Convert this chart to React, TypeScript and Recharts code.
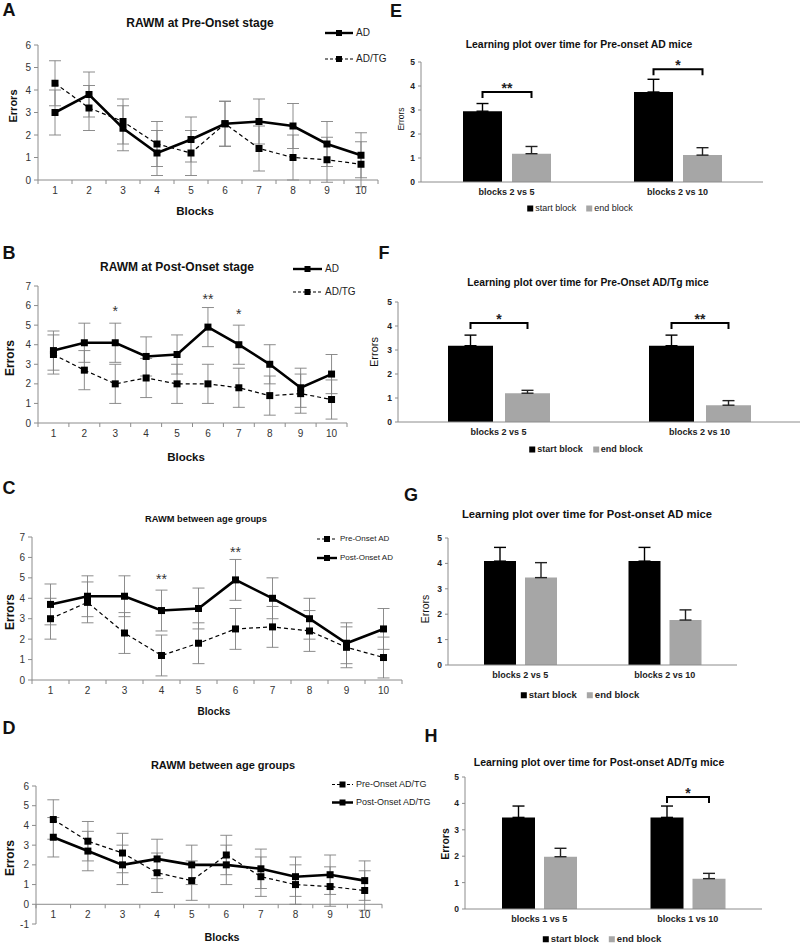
import {
  ComposedChart,
  Line,
  Bar,
  XAxis,
  YAxis,
  ErrorBar,
  ReferenceDot,
  ReferenceLine,
} from "recharts";

const FONT = '"Liberation Sans", Arial, Helvetica, sans-serif';
const AXIS = "#8c8c8c";
const BAR_GREY = "#a6a6a6";

// ---- RAWM errors per block (panels A-D) ----
const blocks = [1, 2, 3, 4, 5, 6, 7, 8, 9, 10];
const preAD = [3.0, 3.8, 2.3, 1.2, 1.8, 2.5, 2.6, 2.4, 1.6, 1.1];
const preTG = [4.3, 3.2, 2.6, 1.6, 1.2, 2.5, 1.4, 1.0, 0.9, 0.7];
const postAD = [3.7, 4.1, 4.1, 3.4, 3.5, 4.9, 4.0, 3.0, 1.8, 2.5];
const postTG = [3.5, 2.7, 2.0, 2.3, 2.0, 2.0, 1.8, 1.4, 1.5, 1.2];
const postTGd = [3.4, 2.7, 2.0, 2.3, 2.0, 2.0, 1.8, 1.4, 1.5, 1.2];
const semLines = [1, 1, 1, 1, 1, 1, 1, 1, 1, 1];

const starsB = [
  { block: 3, y: 5.7, text: "*" },
  { block: 6, y: 6.35, text: "**" },
  { block: 7, y: 5.55, text: "*" },
];
const starsC = [
  { block: 4, y: 4.95, text: "**" },
  { block: 6, y: 6.25, text: "**" },
];

// ---- learning plots (panels E-H) ----
const groups = ["blocks 2 vs 5", "blocks 2 vs 10"];
const groupsH = ["blocks 1 vs 5", "blocks 1 vs 10"];

const startE = [2.95, 3.75];
const startErrE = [0.32, 0.53];
const endE = [1.18, 1.12];
const endErrE = [0.3, 0.31];
const sigE = ["**", "*"];
const sigYE = [3.75, 4.7];

const startF = [3.18, 3.18];
const startErrF = [0.44, 0.44];
const endF = [1.2, 0.7];
const endErrF = [0.12, 0.19];
const sigF = ["*", "**"];
const sigYF = [4.12, 4.12];

const startG = [4.09, 4.09];
const startErrG = [0.54, 0.54];
const endG = [3.44, 1.77];
const endErrG = [0.59, 0.4];
const sigG = ["", ""];
const sigYG = [0, 0];

const startH = [3.47, 3.47];
const startErrH = [0.43, 0.43];
const endH = [1.98, 1.15];
const endErrH = [0.32, 0.2];
const sigH = ["", "*"];
const sigYH = [0, 4.24];

const lineTicks = [0, 1, 2, 3, 4, 5, 6, 7];
const barTicks = [0, 1, 2, 3, 4, 5];

function Txt({ x, y, size, bold = false, rotate = false, children }: any) {
  return (
    <div
      style={{
        position: "absolute",
        left: x,
        top: y,
        transform: `translate(-50%, -50%)${rotate ? " rotate(-90deg)" : ""}`,
        fontSize: size,
        fontWeight: bold ? 700 : 400,
        whiteSpace: "nowrap",
        lineHeight: 1,
        color: "#111",
      }}
    >
      {children}
    </div>
  );
}

const squareDot = (p: any) => (
  <rect key={`${p.dataKey}-${p.index}`} x={p.cx - 3.5} y={p.cy - 3.5} width={7} height={7} fill="#000" />
);

// category label + Excel style tick marks between the categories
function BlockTick(props: any) {
  const { x, y, payload, index, visibleTicksCount, shift = 0, half } = props;
  const yy = y + shift;
  return (
    <g>
      <line x1={x - half} x2={x - half} y1={yy} y2={yy + 4} stroke={AXIS} />
      {index === visibleTicksCount - 1 && <line x1={x + half} x2={x + half} y1={yy} y2={yy + 4} stroke={AXIS} />}
      <text x={x} y={yy + 14} textAnchor="middle" fontSize={10} fill="#333" fontFamily={FONT}>
        {payload.value}
      </text>
    </g>
  );
}

function LinePanel({ box, plot, data, series, domain, stars = [], zeroAxis = false }: any) {
  const margin = {
    top: plot.t - box.y,
    right: box.x + box.w - plot.r,
    bottom: box.y + box.h - plot.b - 20,
    left: 0,
  };
  const half = (plot.r - plot.l) / data.length / 2;
  const unit = (plot.b - plot.t) / (domain[1] - domain[0]);
  const shift = zeroAxis ? domain[0] * unit : 0;
  const ticks = lineTicks.filter((t) => t >= domain[0] && t <= domain[1]);
  if (domain[0] < 0) ticks.unshift(domain[0]);
  return (
    <div style={{ position: "absolute", left: box.x, top: box.y }}>
      <ComposedChart width={box.w} height={box.h} data={data} margin={margin}>
        <XAxis
          dataKey="block"
          height={20}
          interval={0}
          padding={{ left: half, right: half }}
          tickLine={false}
          tickSize={0}
          tickMargin={0}
          axisLine={zeroAxis ? false : { stroke: AXIS }}
          tick={(p: any) => <BlockTick {...p} shift={shift} half={half} />}
        />
        <YAxis
          width={plot.l - box.x}
          domain={domain}
          ticks={ticks}
          interval={0}
          allowDataOverflow
          tickSize={4}
          tickMargin={3}
          axisLine={{ stroke: AXIS }}
          tickLine={{ stroke: AXIS }}
          tick={{ fontSize: 10, fill: "#333", fontFamily: FONT }}
        />
        {zeroAxis && <ReferenceLine y={0} stroke={AXIS} />}
        {series.map((s: any) => (
          <Line
            key={s.key}
            dataKey={s.key}
            stroke="#000"
            strokeWidth={s.dashed ? 1.2 : 2.6}
            strokeDasharray={s.dashed ? "4 3" : undefined}
            dot={squareDot}
            activeDot={false}
            isAnimationActive={false}
          >
            <ErrorBar dataKey={s.err} direction="y" width={6} stroke="#808080" strokeWidth={0.9} />
          </Line>
        ))}
        {stars.map((s: any) => (
          <ReferenceDot
            key={s.block}
            x={s.block}
            y={s.y}
            r={0}
            fill="none"
            stroke="none"
            label={{ value: s.text, position: "center", fontSize: 14, fill: "#333", fontFamily: FONT }}
          />
        ))}
      </ComposedChart>
    </div>
  );
}

function LineKey({ x, y, gap, w, size, items }: any) {
  return (
    <>
      {items.map((it: any, i: number) => (
        <div
          key={it.label}
          style={{
            position: "absolute",
            left: x,
            top: y + i * gap,
            transform: "translateY(-50%)",
            display: "flex",
            alignItems: "center",
            fontSize: size,
            color: "#222",
            whiteSpace: "nowrap",
            lineHeight: 1,
          }}
        >
          <svg width={w} height={8}>
            <line
              x1={0}
              x2={w}
              y1={4}
              y2={4}
              stroke="#000"
              strokeWidth={it.dashed ? 1.2 : 2.4}
              strokeDasharray={it.dashed ? "3 2" : undefined}
            />
            <rect x={w / 2 - 3} y={1} width={6} height={6} fill="#000" />
          </svg>
          <span style={{ marginLeft: 3 }}>{it.label}</span>
        </div>
      ))}
    </>
  );
}

function BarKey({ x, y, size, bold }: any) {
  const sq = (c: string) => (
    <span style={{ display: "inline-block", width: 6, height: 6, background: c, marginRight: 2 }} />
  );
  return (
    <div
      style={{
        position: "absolute",
        left: x,
        top: y,
        transform: "translate(-50%, -50%)",
        fontSize: size,
        fontWeight: bold ? 700 : 400,
        color: "#222",
        whiteSpace: "nowrap",
        lineHeight: 1,
        display: "flex",
        alignItems: "center",
      }}
    >
      {sq("#000")}start block
      <span style={{ width: 10 }} />
      {sq(BAR_GREY)}end block
    </div>
  );
}

function BarPanel({ box, plot, cats, start, startErr, end, endErr, sig, sigY, barSize, gap }: any) {
  const data = cats.map((c: string, i: number) => ({
    group: c,
    start: start[i],
    end: end[i],
    startErr: [0, startErr[i]],
    endErr: [0, endErr[i]],
  }));
  const margin = {
    top: plot.t - box.y,
    right: box.x + box.w - plot.r,
    bottom: box.y + box.h - plot.b - 20,
    left: 0,
  };

  // significance bracket drawn from the black bar's geometry
  const bracket = (props: any) => {
    const vb = props.viewBox ?? props;
    let i = props.index;
    if (i === undefined) i = cats.indexOf(props.payload?.group);
    if (!sig[i]) return <g />;
    const top = Math.min(vb.y, vb.y + vb.height);
    const hgt = Math.abs(vb.height);
    const base = top + hgt;
    const yy = base - sigY[i] * (hgt / start[i]);
    const x1 = vb.x + vb.width / 2;
    const x2 = x1 + vb.width + gap;
    return (
      <g>
        <path d={`M${x1},${yy + 6}V${yy}H${x2}V${yy + 6}`} stroke="#000" strokeWidth={2} fill="none" />
        <text x={(x1 + x2) / 2} y={yy + 1} textAnchor="middle" fontSize={14} fontWeight={700} fill="#222" fontFamily={FONT}>
          {sig[i]}
        </text>
      </g>
    );
  };

  return (
    <div style={{ position: "absolute", left: box.x, top: box.y }}>
      <ComposedChart width={box.w} height={box.h} data={data} margin={margin} barGap={gap}>
        <XAxis
          dataKey="group"
          height={20}
          tickLine={false}
          tickSize={0}
          tickMargin={7}
          axisLine={{ stroke: AXIS }}
          tick={{ fontSize: 9, fontWeight: 700, fill: "#222", fontFamily: FONT }}
        />
        <YAxis
          width={plot.l - box.x}
          domain={[0, 5]}
          ticks={barTicks}
          interval={0}
          tickSize={3}
          tickMargin={3}
          axisLine={{ stroke: AXIS }}
          tickLine={{ stroke: AXIS }}
          tick={{ fontSize: 8.5, fontWeight: 700, fill: "#222", fontFamily: FONT }}
        />
        <Bar dataKey="start" fill="#000" barSize={barSize} isAnimationActive={false} label={bracket}>
          <ErrorBar dataKey="startErr" direction="y" width={6} stroke="#000" strokeWidth={1.4} />
        </Bar>
        <Bar dataKey="end" fill={BAR_GREY} barSize={barSize} isAnimationActive={false}>
          <ErrorBar dataKey="endErr" direction="y" width={6} stroke="#222" strokeWidth={1.4} />
        </Bar>
      </ComposedChart>
    </div>
  );
}

const lineData = (a: number[], b: number[]) =>
  blocks.map((bk, i) => ({ block: bk, s1: a[i], s1Err: semLines[i], s2: b[i], s2Err: semLines[i] }));

export default function App() {
  const adFirst = [
    { key: "s1", err: "s1Err", dashed: false },
    { key: "s2", err: "s2Err", dashed: true },
  ];
  const preFirst = [
    { key: "s1", err: "s1Err", dashed: true },
    { key: "s2", err: "s2Err", dashed: false },
  ];
  return (
    <div
      style={{
        position: "absolute",
        left: 0,
        top: 0,
        width: 800,
        height: 945,
        background: "#fff",
        fontFamily: FONT,
        overflow: "hidden",
      }}
    >
      {/* A */}
      <LinePanel
        box={{ x: 0, y: 0, w: 400, h: 220 }}
        plot={{ l: 38, r: 378, t: 45, b: 180 }}
        data={lineData(preAD, preTG)}
        series={adFirst}
        domain={[0, 6]}
      />
      {/* B */}
      <LinePanel
        box={{ x: 0, y: 220, w: 400, h: 245 }}
        plot={{ l: 38, r: 347, t: 286, b: 423 }}
        data={lineData(postAD, postTG)}
        series={adFirst}
        domain={[0, 7]}
        stars={starsB}
      />
      {/* C */}
      <LinePanel
        box={{ x: 0, y: 470, w: 410, h: 240 }}
        plot={{ l: 32, r: 402, t: 537, b: 680 }}
        data={lineData(preAD, postAD)}
        series={preFirst}
        domain={[0, 7]}
        stars={starsC}
      />
      {/* D */}
      <LinePanel
        box={{ x: 0, y: 710, w: 400, h: 235 }}
        plot={{ l: 36, r: 382, t: 786, b: 924 }}
        data={lineData(preTG, postTGd)}
        series={preFirst}
        domain={[-1, 6]}
        zeroAxis
      />

      <BarPanel
        box={{ x: 380, y: 0, w: 420, h: 230 }}
        plot={{ l: 421, r: 763, t: 62, b: 182 }}
        cats={groups}
        start={startE}
        startErr={startErrE}
        end={endE}
        endErr={endErrE}
        sig={sigE}
        sigY={sigYE}
        barSize={39}
        gap={10}
      />
      <BarPanel
        box={{ x: 360, y: 230, w: 440, h: 230 }}
        plot={{ l: 398, r: 800, t: 302, b: 422 }}
        cats={groups}
        start={startF}
        startErr={startErrF}
        end={endF}
        endErr={endErrF}
        sig={sigF}
        sigY={sigYF}
        barSize={45}
        gap={12}
      />
      <BarPanel
        box={{ x: 400, y: 470, w: 400, h: 240 }}
        plot={{ l: 448, r: 737, t: 538, b: 665 }}
        cats={groups}
        start={startG}
        startErr={startErrG}
        end={endG}
        endErr={endErrG}
        sig={sigG}
        sigY={sigYG}
        barSize={32}
        gap={9}
      />
      <BarPanel
        box={{ x: 400, y: 710, w: 400, h: 235 }}
        plot={{ l: 465, r: 762, t: 777, b: 909 }}
        cats={groupsH}
        start={startH}
        startErr={startErrH}
        end={endH}
        endErr={endErrH}
        sig={sigH}
        sigY={sigYH}
        barSize={33}
        gap={9}
      />

      {/* panel letters */}
      <Txt x={9} y={10} size={18} bold>A</Txt>
      <Txt x={9} y={253} size={18} bold>B</Txt>
      <Txt x={9} y={488} size={18} bold>C</Txt>
      <Txt x={9} y={728} size={18} bold>D</Txt>
      <Txt x={396} y={11} size={18} bold>E</Txt>
      <Txt x={384} y={253} size={18} bold>F</Txt>
      <Txt x={411} y={495} size={18} bold>G</Txt>
      <Txt x={431} y={736} size={18} bold>H</Txt>

      {/* titles */}
      <Txt x={200} y={23} size={12} bold>RAWM at Pre-Onset stage</Txt>
      <Txt x={177} y={267} size={12} bold>RAWM at Post-Onset stage</Txt>
      <Txt x={206} y={520} size={9.3} bold>RAWM between age groups</Txt>
      <Txt x={223} y={765} size={11} bold>RAWM between age groups</Txt>
      <Txt x={579} y={45} size={10.4} bold>Learning plot over time for Pre-onset AD mice</Txt>
      <Txt x={588} y={283} size={10.3} bold>Learning plot over time for Pre-Onset AD/Tg mice</Txt>
      <Txt x={587} y={515} size={11.2} bold>Learning plot over time for Post-onset AD mice</Txt>
      <Txt x={599} y={762} size={10.5} bold>Learning plot over time for Post-onset AD/Tg mice</Txt>

      {/* axis titles */}
      <Txt x={195} y={212} size={11.5} bold>Blocks</Txt>
      <Txt x={186} y={458} size={11.5} bold>Blocks</Txt>
      <Txt x={214} y={712} size={10} bold>Blocks</Txt>
      <Txt x={222} y={937} size={10.7} bold>Blocks</Txt>
      <Txt x={13} y={106} size={11} bold rotate>Errors</Txt>
      <Txt x={10} y={358} size={12} bold rotate>Errors</Txt>
      <Txt x={10} y={612} size={12} bold rotate>Errors</Txt>
      <Txt x={10} y={858} size={12} bold rotate>Errors</Txt>
      <Txt x={401} y={119} size={8.5} rotate>Errors</Txt>
      <Txt x={374} y={352} size={11} rotate>Errors</Txt>
      <Txt x={425} y={609} size={10.5} rotate>Errors</Txt>
      <Txt x={445} y={844} size={10.5} bold rotate>Errors</Txt>

      {/* legends */}
      <LineKey x={325} y={33} gap={26} w={28} size={10} items={[{ label: "AD" }, { label: "AD/TG", dashed: true }]} />
      <LineKey x={293} y={269} gap={23} w={29} size={10} items={[{ label: "AD" }, { label: "AD/TG", dashed: true }]} />
      <LineKey
        x={317}
        y={539}
        gap={19}
        w={20}
        size={8}
        items={[{ label: "Pre-Onset AD", dashed: true }, { label: "Post-Onset AD" }]}
      />
      <LineKey
        x={332}
        y={784}
        gap={18}
        w={21}
        size={9}
        items={[{ label: "Pre-Onset AD/TG", dashed: true }, { label: "Post-Onset AD/TG" }]}
      />
      <BarKey x={580} y={208} size={9} bold={false} />
      <BarKey x={586} y={449} size={9} bold />
      <BarKey x={580} y={695} size={9.5} bold />
      <BarKey x={602} y={939} size={9.5} bold />
    </div>
  );
}
